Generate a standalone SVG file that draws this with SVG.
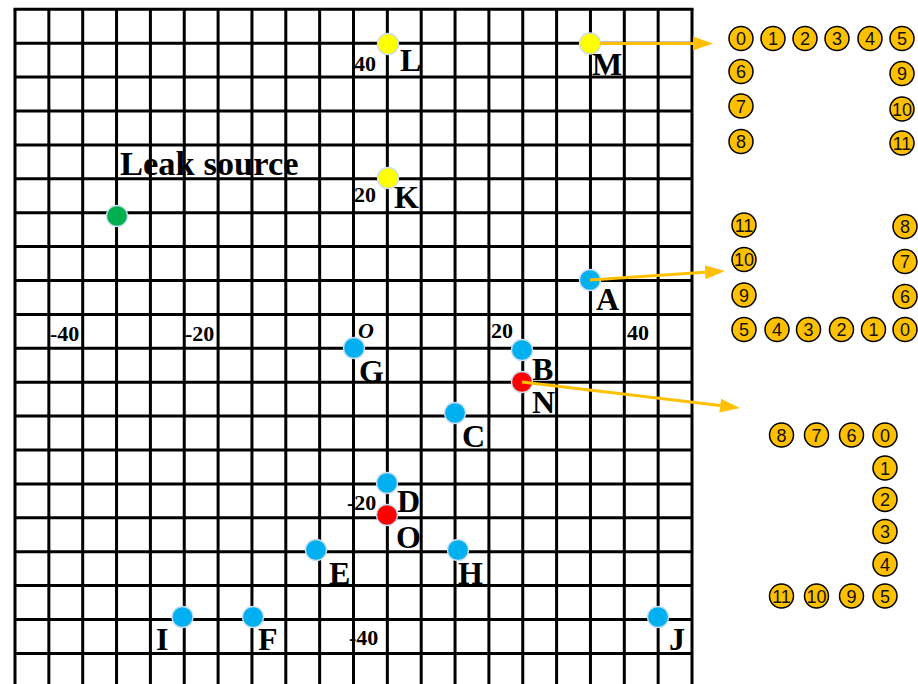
<svg xmlns="http://www.w3.org/2000/svg" width="918" height="684" viewBox="0 0 918 684">
<style>
.grid{stroke:#000;stroke-width:3;fill:none}
.lbl{font-family:"Liberation Serif",serif;font-weight:bold;font-size:32px;fill:#000}
.num{font-family:"Liberation Serif",serif;font-weight:bold;font-size:22px;fill:#000}
.blue{fill:#00B0F0;stroke:#C9DDF0;stroke-width:1.3}
.red{fill:#FF0000;stroke:#C9DDF0;stroke-width:1.3}
.yel{fill:#FFFF00;stroke:#C9DDF0;stroke-width:1.3}
.grn{fill:#00B050;stroke:#C9DDF0;stroke-width:1.3}
.conn{stroke:#FFC000;stroke-width:3;fill:none}
.ring circle{fill:#FFC000;stroke:#000;stroke-width:1.5}
.ring text{font-family:"Liberation Sans",sans-serif;font-size:18px;fill:#111;text-anchor:middle}
</style>
<defs>
<marker id="ah" markerUnits="userSpaceOnUse" markerWidth="22" markerHeight="16" refX="0" refY="7" orient="auto" viewBox="0 0 22 14">
<path d="M0,0 L20,7 L0,14 z" fill="#FFC000"/>
</marker>
</defs>
<rect width="918" height="684" fill="#fff"/>
<g id="grid" class="grid">
<path d="M15,9.3V684M48.85,9.3V684M82.7,9.3V684M116.55,9.3V684M150.4,9.3V684M184.25,9.3V684M218.1,9.3V684M251.95,9.3V684M285.8,9.3V684M319.65,9.3V684M353.5,9.3V684M387.35,9.3V684M421.2,9.3V684M455.05,9.3V684M488.9,9.3V684M522.75,9.3V684M556.6,9.3V684M590.45,9.3V684M624.3,9.3V684M658.15,9.3V684M692,9.3V684"/>
<path d="M13.5,9.3H693.5M15,43.2H692M15,77.1H692M15,111H692M15,144.9H692M15,178.8H692M15,212.7H692M15,246.6H692M15,280.5H692M15,314.4H692M15,348.3H692M15,382.2H692M15,416.1H692M15,450H692M15,483.9H692M15,517.8H692M15,551.7H692M15,585.6H692M15,619.5H692M15,653.4H692"/>
</g>
<g id="axis-labels">
<text class="num" x="354" y="71">40</text>
<text class="num" x="354" y="202">20</text>
<text class="num" x="50" y="341">-40</text>
<text class="num" x="185" y="341">-20</text>
<text class="num" x="491" y="338">20</text>
<text class="num" x="627" y="340">40</text>
<text class="num" x="347" y="510">-20</text>
<text class="num" x="349" y="645">-40</text>
<text class="num" x="358" y="338" font-style="italic">O</text>
</g>
<g id="leak-source">
<circle class="grn" cx="117" cy="216" r="10.5"/>
<text class="lbl" x="120" y="175" style="font-size:34.5px">Leak source</text>
</g>
<g id="node-L"><circle class="yel" cx="388" cy="44" r="10.5"/><text class="lbl" x="400" y="71">L</text></g>
<g id="node-K"><circle class="yel" cx="388" cy="178" r="10.5"/><text class="lbl" x="394" y="208">K</text></g>
<g id="node-M"><circle class="yel" cx="590" cy="43.5" r="10.5"/><text class="lbl" x="592" y="75">M</text></g>
<g id="node-A"><circle class="blue" cx="590" cy="280" r="10.5"/><text class="lbl" x="596" y="310">A</text></g>
<g id="node-B"><circle class="blue" cx="522" cy="350" r="10.5"/><text class="lbl" x="532" y="380">B</text></g>
<g id="node-N"><circle class="red" cx="522" cy="382" r="10.5"/><text class="lbl" x="532" y="413">N</text></g>
<g id="node-G"><circle class="blue" cx="354" cy="348" r="10.5"/><text class="lbl" x="359" y="382">G</text></g>
<g id="node-C"><circle class="blue" cx="455" cy="413" r="10.5"/><text class="lbl" x="462" y="447">C</text></g>
<g id="node-D"><circle class="blue" cx="387" cy="483" r="10.5"/><text class="lbl" x="397" y="512">D</text></g>
<g id="node-O"><circle class="red" cx="387" cy="515" r="10.5"/><text class="lbl" x="396" y="548">O</text></g>
<g id="node-E"><circle class="blue" cx="316" cy="550" r="10.5"/><text class="lbl" x="329" y="584">E</text></g>
<g id="node-H"><circle class="blue" cx="458" cy="550" r="10.5"/><text class="lbl" x="458" y="584">H</text></g>
<g id="node-I"><circle class="blue" cx="182.5" cy="617" r="10.5"/><text class="lbl" x="156" y="650">I</text></g>
<g id="node-F"><circle class="blue" cx="253" cy="617" r="10.5"/><text class="lbl" x="258" y="650">F</text></g>
<g id="node-J"><circle class="blue" cx="658" cy="617" r="10.5"/><text class="lbl" x="669" y="650">J</text></g>
<g id="connectors">
<path class="conn" d="M600,43.5 L693,43.5" marker-end="url(#ah)"/>
<path class="conn" d="M590,280 L705,272.3" marker-end="url(#ah)"/>
<path class="conn" d="M522,382 L720.1,405.6" marker-end="url(#ah)"/>
</g>
<g id="ring-M" class="ring">
<circle cx="741" cy="38.5" r="12"/><text x="741" y="45">0</text>
<circle cx="773" cy="38.5" r="12"/><text x="773" y="45">1</text>
<circle cx="805" cy="38.5" r="12"/><text x="805" y="45">2</text>
<circle cx="837" cy="38.5" r="12"/><text x="837" y="45">3</text>
<circle cx="870" cy="38.5" r="12"/><text x="870" y="45">4</text>
<circle cx="902" cy="38.5" r="12"/><text x="902" y="45">5</text>
<circle cx="741" cy="71.5" r="12"/><text x="741" y="78">6</text>
<circle cx="741" cy="106" r="12"/><text x="741" y="112.5">7</text>
<circle cx="741" cy="141.5" r="12"/><text x="741" y="148">8</text>
<circle cx="902" cy="73.5" r="12"/><text x="902" y="80">9</text>
<circle cx="902" cy="109" r="12"/><text x="902" y="115.5">10</text>
<circle cx="902" cy="143" r="12"/><text x="902" y="149.5">11</text>
</g>
<g id="ring-A" class="ring">
<circle cx="744" cy="225" r="12"/><text x="744" y="231.5">11</text>
<circle cx="744" cy="259.5" r="12"/><text x="744" y="266">10</text>
<circle cx="744" cy="295" r="12"/><text x="744" y="301.5">9</text>
<circle cx="744" cy="329.5" r="12"/><text x="744" y="336">5</text>
<circle cx="777" cy="329.5" r="12"/><text x="777" y="336">4</text>
<circle cx="808.5" cy="329.5" r="12"/><text x="808.5" y="336">3</text>
<circle cx="841.5" cy="329.5" r="12"/><text x="841.5" y="336">2</text>
<circle cx="873.5" cy="329.5" r="12"/><text x="873.5" y="336">1</text>
<circle cx="905" cy="329.5" r="12"/><text x="905" y="336">0</text>
<circle cx="905" cy="226.5" r="12"/><text x="905" y="233">8</text>
<circle cx="905" cy="261.5" r="12"/><text x="905" y="268">7</text>
<circle cx="905" cy="296.5" r="12"/><text x="905" y="303">6</text>
</g>
<g id="ring-N" class="ring">
<circle cx="781.5" cy="435" r="12"/><text x="781.5" y="441.5">8</text>
<circle cx="816.5" cy="435" r="12"/><text x="816.5" y="441.5">7</text>
<circle cx="851.5" cy="435" r="12"/><text x="851.5" y="441.5">6</text>
<circle cx="885" cy="435" r="12"/><text x="885" y="441.5">0</text>
<circle cx="885" cy="468" r="12"/><text x="885" y="474.5">1</text>
<circle cx="885" cy="499.5" r="12"/><text x="885" y="506">2</text>
<circle cx="885" cy="531.5" r="12"/><text x="885" y="538">3</text>
<circle cx="885" cy="564" r="12"/><text x="885" y="570.5">4</text>
<circle cx="885" cy="596" r="12"/><text x="885" y="602.5">5</text>
<circle cx="851.5" cy="596" r="12"/><text x="851.5" y="602.5">9</text>
<circle cx="816.5" cy="596" r="12"/><text x="816.5" y="602.5">10</text>
<circle cx="781.5" cy="596" r="12"/><text x="781.5" y="602.5">11</text>
</g>
</svg>
